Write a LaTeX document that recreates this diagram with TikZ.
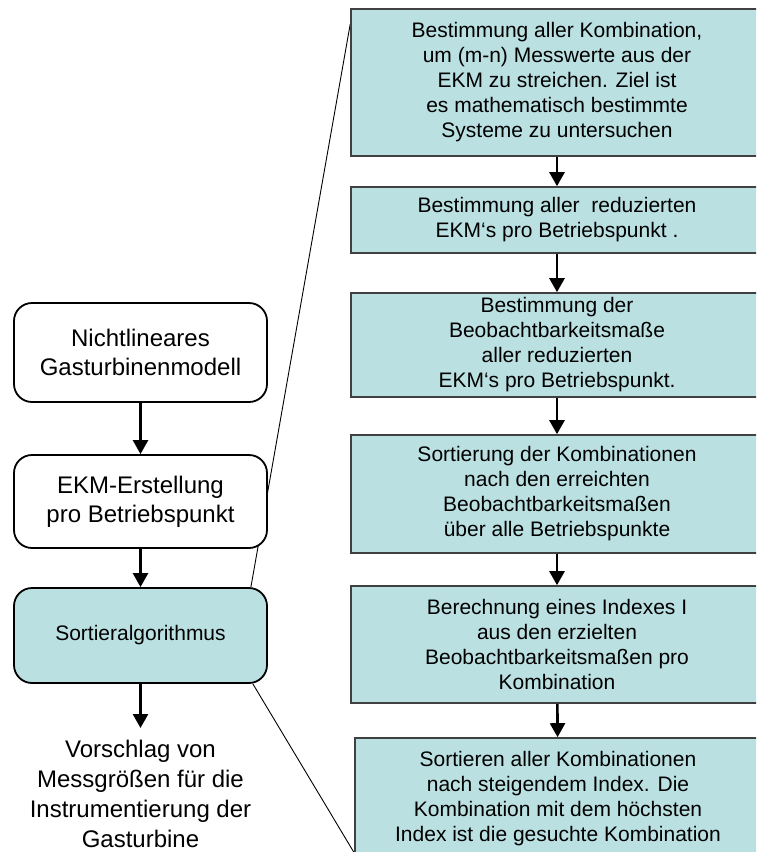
\documentclass[tikz,border=0pt]{standalone}
\usepackage{fontspec}
\setmainfont{Liberation Sans}
\usetikzlibrary{arrows.meta,calc,backgrounds}
\definecolor{boxfill}{RGB}{186,224,226}
\definecolor{boxline}{RGB}{64,64,64}
\begin{document}
\begin{tikzpicture}[x=1pt,y=-1pt,
  rbox/.style={draw=boxline,line width=1.6pt,fill=boxfill,minimum width=412pt,
    align=center,inner sep=0pt,font=\fontsize{21}{25}\selectfont},
  lbox/.style={draw=black,line width=1.8pt,fill=white,rounded corners=18pt,
    minimum width=253pt,align=center,inner sep=0pt,font=\fontsize{24}{29}\selectfont},
  arr/.style={line width=2.6pt,-{Triangle[width=15pt,length=14pt]}},
  zoomline/.style={line width=0.9pt}]
\useasboundingbox (0,0) rectangle (756,852);
\clip (0,0) rectangle (756,852);

% detailed steps of the sorting algorithm
\node[rbox,minimum height=147pt] (r1) at (557,82.5)
  {Bestimmung aller Kombination,\\um (m-n) Messwerte aus der\\EKM zu streichen. Ziel ist\\es mathematisch bestimmte\\Systeme zu untersuchen};
\node[rbox,minimum height=66pt] (r2) at (557,220)
  {Bestimmung aller\ \ reduzierten\\EKM‘s pro Betriebspunkt .};
\node[rbox,minimum height=104pt] (r3) at (557,345)
  {Bestimmung der\\Beobachtbarkeitsmaße\\aller reduzierten\\EKM‘s pro Betriebspunkt.};
\node[rbox,minimum height=118pt] (r4) at (557,494)
  {Sortierung der Kombinationen\\nach den erreichten\\Beobachtbarkeitsmaßen\\über alle Betriebspunkte};
\node[rbox,minimum height=117pt] (r5) at (557,644.5)
  {Berechnung eines Indexes I\\aus den erzielten\\Beobachtbarkeitsmaßen pro\\Kombination};
\node[rbox,minimum width=406pt,minimum height=122pt] (r6) at (558,799)
  {Sortieren aller Kombinationen\\nach steigendem Index. Die\\Kombination mit dem höchsten\\Index ist die gesuchte Kombination};

% overall procedure
\node[lbox,minimum height=99pt] (A) at (140.5,352.5) {Nichtlineares\\Gasturbinenmodell};
\node[lbox,minimum height=93pt] (B) at (140.5,501.5) {EKM-Erstellung\\pro Betriebspunkt};
\node[lbox,minimum height=95pt,fill=boxfill,font=\fontsize{21}{25}\selectfont] (C) at (140.5,635.5) {Sortieralgorithmus};
\node[font=\fontsize{24}{30}\selectfont,align=center,inner xsep=0pt,inner ysep=12pt,anchor=north] (out) at (140.5,728)
  {Vorschlag von\\Messgrößen für die\\Instrumentierung der\\Gasturbine};

% flow arrows
\draw[arr] (A) -- (B);
\draw[arr] (B) -- (C);
\draw[arr] (C) -- (out);
\draw[arr] (r1) -- (r2);
\draw[arr] (r2) -- (r3);
\draw[arr] (r3) -- (r4);
\draw[arr] (r4) -- (r5);
\draw[arr] (r5) -- (r6);

% lines marking the expanded box
\begin{scope}[on background layer]
  \draw[zoomline] ($(r1.north west)+(0,16)$) -- ($(C.north east)+(-17,0)$);
  \draw[zoomline] ($(C.south east)+(-15,0)$) -- ($(r6.south west)+(0,-8)$);
\end{scope}
\end{tikzpicture}
\end{document}
